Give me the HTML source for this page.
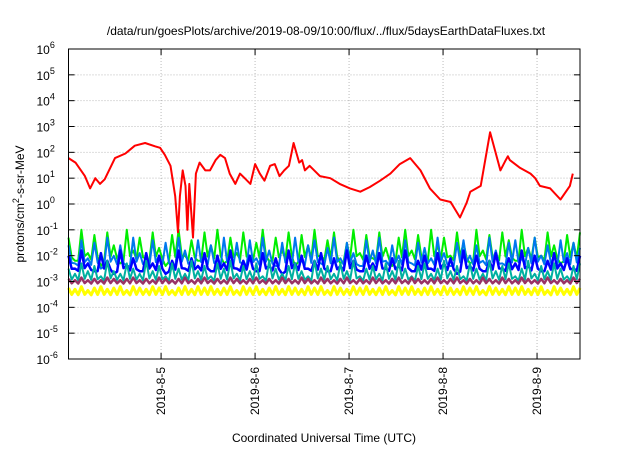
<!DOCTYPE html>
<html><head><meta charset="utf-8"><style>
body{margin:0;background:#fff;width:640px;height:448px;overflow:hidden}
svg text{font-family:"Liberation Sans",sans-serif;fill:#000}
</style></head><body>
<svg id="chart" width="640" height="448" viewBox="0 0 640 448" xmlns="http://www.w3.org/2000/svg">
<text x="326" y="35" font-size="12" text-anchor="middle">/data/run/goesPlots/archive/2019-08-09/10:00/flux/../flux/5daysEarthDataFluxes.txt</text>
<text transform="translate(24,204) rotate(-90)" font-size="12" text-anchor="middle">protons/cm<tspan dy="-5" font-size="9">2</tspan><tspan dy="5">-s-sr-MeV</tspan></text>
<text x="324" y="442" font-size="12" text-anchor="middle">Coordinated Universal Time (UTC)</text>
<g id="grid"></g><g id="series"></g><g id="axes"></g>
</svg>
<script>
const xTickLabels=["2019-8-5","2019-8-6","2019-8-7","2019-8-8","2019-8-9"];
const xTickDays=[0,1,2,3,4];
const yTickExps=[-6,-5,-4,-3,-2,-1,0,1,2,3,4,5,6];
const xDomain=[-0.985,4.457];
const yDomain=[-6,6];
const redT=[-0.985,-0.91,-0.81,-0.755,-0.70,-0.65,-0.60,-0.49,-0.38,-0.28,-0.17,-0.06,-0.01,0.04,0.10,0.15,0.18,0.20,0.23,0.26,0.28,0.30,0.34,0.37,0.41,0.47,0.52,0.58,0.63,0.68,0.73,0.79,0.84,0.89,0.95,1.0,1.05,1.10,1.16,1.21,1.26,1.31,1.36,1.41,1.47,1.50,1.53,1.58,1.69,1.80,1.90,2.01,2.12,2.22,2.33,2.44,2.54,2.65,2.76,2.86,2.97,3.08,3.18,3.25,3.29,3.40,3.50,3.61,3.66,3.69,3.71,3.82,3.93,3.98,4.03,4.14,4.25,4.35,4.38,4.41,4.457];
const redV=[60,40,12,4,10,6,9,60,90,180,230,170,150,80,30,2,0.08,2,20,5,0.1,6,0.05,15,40,20,20,50,80,60,15,6,15,10,6,35,15,8,30,35,12,20,30,230,40,50,20,30,12,10,6,4,3,4.5,8,15,35,60,20,4,1.5,1.2,0.3,1.1,3,5,600,20,45,70,50,25,15,10,5,4,1.5,5,15];
// Noisy channels: peak log10 flux per sample, plus a per-channel trough level
const greenV=[-1.3,-2.2,-1.0,-1.9,-1.2,-2.4,-1.1,-1.6,-2.3,-1.0,-1.8,-1.3,-2.1,-1.1,-1.7,-2.4,-1.2,-1.0,-2.0,-1.4,-2.2,-1.1,-1.6,-1.0,-2.3,-1.3,-1.9,-1.1,-2.1,-1.5,-1.0,-2.2,-1.3,-1.8,-1.1,-2.4,-1.2,-1.6,-1.0,-2.0,-1.4,-1.1,-2.3,-1.5,-1.0,-1.9,-1.2,-2.1,-1.1,-1.7,-2.4,-1.3,-1.0,-1.8,-1.2,-2.2,-1.0,-1.6,-1.3,-2.0,-1.1,-1.5,-2.3,-1.0,-1.8,-1.2,-2.1,-1.1,-1.4,-2.2,-1.0,-1.7,-1.3,-2.0,-1.1,-1.6,-2.3,-1.2,-1.5,-1.1];
const lblueV=[-1.6,-2.3,-1.4,-2.1,-1.5,-2.5,-1.3,-2.0,-1.6,-2.4,-1.3,-1.9,-2.2,-1.4,-2.0,-1.5,-2.5,-1.3,-1.8,-2.2,-1.4,-2.0,-1.6,-2.4,-1.3,-1.9,-1.5,-2.3,-1.4,-2.1,-1.3,-1.8,-2.4,-1.5,-2.0,-1.3,-2.2,-1.6,-1.4,-2.3,-1.7,-1.3,-2.1,-1.5,-1.9,-2.4,-1.4,-1.8,-1.3,-2.2,-1.6,-2.0,-1.4,-2.3,-1.5,-1.7,-2.1,-1.3,-1.9,-2.4,-1.5,-1.4,-2.0,-1.6,-2.2,-1.3,-1.8,-2.3,-1.5,-1.4,-2.1,-1.7,-1.3,-2.0,-1.6,-2.4,-1.4,-1.9,-1.5,-1.7];
const blueV=[-2.0,-2.5,-1.8,-2.3,-2.6,-1.9,-2.2,-2.7,-1.8,-2.4,-2.1,-2.6,-1.9,-2.3,-2.0,-2.7,-2.2,-1.8,-2.5,-2.1,-2.4,-1.9,-2.6,-2.0,-2.3,-1.8,-2.5,-2.2,-2.0,-2.6,-1.9,-2.4,-2.1,-2.7,-1.8,-2.3,-2.0,-2.5,-2.2,-1.9,-2.6,-2.1,-2.4,-1.8,-2.2,-2.6,-2.0,-2.3,-1.9,-2.5,-2.1,-2.4,-1.8,-2.6,-2.2,-2.0,-2.5,-1.9,-2.3,-2.1,-2.7,-1.8,-2.4,-2.0,-2.6,-2.2,-1.9,-2.5,-2.1,-2.3,-1.8,-2.4,-2.0,-2.6,-2.2,-1.9,-2.3,-2.1,-2.5,-2.0];
const tealV=[-2.5,-2.7,-2.3,-2.6,-2.4,-2.8,-2.2,-2.6,-2.7,-2.3,-2.5,-2.7,-2.2,-2.6,-2.4,-2.8,-2.3,-2.5,-2.7,-2.2,-2.6,-2.4,-2.8,-2.3,-2.5,-2.2,-2.7,-2.4,-2.6,-2.3,-2.8,-2.2,-2.5,-2.7,-2.4,-2.3,-2.6,-2.8,-2.2,-2.5,-2.4,-2.7,-2.3,-2.6,-2.2,-2.8,-2.5,-2.4,-2.7,-2.3,-2.6,-2.2,-2.5,-2.8,-2.4,-2.3,-2.7,-2.5,-2.2,-2.6,-2.4,-2.8,-2.3,-2.5,-2.7,-2.2,-2.6,-2.4,-2.3,-2.8,-2.5,-2.2,-2.7,-2.4,-2.6,-2.3,-2.5,-2.8,-2.4,-2.3];
const purpleV=[-2.9,-2.95,-2.85,-2.95,-2.9,-2.95,-2.85,-2.9,-2.95,-2.9,-2.85,-2.95,-2.9,-2.95,-2.85,-2.9,-2.95,-2.9,-2.85,-2.95,-2.9,-2.85,-2.95,-2.9,-2.95,-2.85,-2.9,-2.95,-2.9,-2.85,-2.95,-2.9,-2.95,-2.85,-2.9,-2.95,-2.85,-2.9,-2.95,-2.85,-2.9,-2.95,-2.9,-2.85,-2.95,-2.9,-2.95,-2.85,-2.9,-2.95,-2.9,-2.85,-2.95,-2.85,-2.9,-2.95,-2.9,-2.85,-2.95,-2.9,-2.85,-2.95,-2.9,-2.95,-2.85,-2.9,-2.95,-2.85,-2.9,-2.95,-2.85,-2.9,-2.95,-2.9,-2.85,-2.95,-2.9,-2.95,-2.85,-2.9];
const yellowV=[-3.25,-3.3,-3.2,-3.35,-3.25,-3.2,-3.3,-3.25,-3.2,-3.35,-3.2,-3.25,-3.3,-3.2,-3.25,-3.2,-3.35,-3.25,-3.2,-3.3,-3.2,-3.25,-3.2,-3.3,-3.25,-3.2,-3.35,-3.2,-3.25,-3.2,-3.3,-3.25,-3.2,-3.3,-3.2,-3.25,-3.3,-3.2,-3.25,-3.2,-3.35,-3.2,-3.25,-3.3,-3.2,-3.25,-3.2,-3.3,-3.25,-3.2,-3.35,-3.2,-3.25,-3.2,-3.3,-3.25,-3.2,-3.3,-3.2,-3.25,-3.3,-3.2,-3.25,-3.2,-3.35,-3.2,-3.25,-3.3,-3.2,-3.25,-3.2,-3.3,-3.25,-3.2,-3.35,-3.2,-3.25,-3.3,-3.2,-3.25];
const troughs=[-2.2,-2.4,-2.6,-3.0,-3.1,-3.55]; // green, light blue, blue, teal, purple, yellow

const L=68.5,R=580,T=49,B=359;
const xs=d=>L+(d-xDomain[0])/(xDomain[1]-xDomain[0])*(R-L);
const ys=e=>B-(e-yDomain[0])/(yDomain[1]-yDomain[0])*(B-T);
const NS="http://www.w3.org/2000/svg";
function mk(tag,parent){const e=document.createElementNS(NS,tag);parent.appendChild(e);return e;}
const grid=document.getElementById('grid'),ser=document.getElementById('series'),axes=document.getElementById('axes');

yTickExps.forEach(e=>{
  const y=ys(e);
  if(e>yDomain[0]&&e<yDomain[1]){
    const g=mk('line',grid);
    
    
    g.setAttribute('x1',L);g.setAttribute('x2',R);g.setAttribute('y1',y);g.setAttribute('y2',y);
    g.setAttribute('stroke','#bbb');g.setAttribute('stroke-dasharray','1,2');
  }
  const t1=mk('line',axes);
  
  
  t1.setAttribute('x1',L);t1.setAttribute('x2',L+6);t1.setAttribute('y1',y);t1.setAttribute('y2',y);t1.setAttribute('stroke','#000');
  const t2=mk('line',axes);
  
  
  t2.setAttribute('x1',R-6);t2.setAttribute('x2',R);t2.setAttribute('y1',y);t2.setAttribute('y2',y);t2.setAttribute('stroke','#000');
  const tx=mk('text',axes);
  
  
  tx.setAttribute('x',L-32);tx.setAttribute('y',y+5);tx.setAttribute('font-size','12');
  tx.textContent='10';
  const sp=mk('tspan',tx);sp.setAttribute('dy','-6');sp.setAttribute('font-size','9');sp.textContent=String(e);
});

xTickDays.forEach((d,i)=>{
  const x=xs(d);
  const g=mk('line',grid);
  
  
  g.setAttribute('x1',x);g.setAttribute('x2',x);g.setAttribute('y1',T);g.setAttribute('y2',B);
  g.setAttribute('stroke','#bbb');g.setAttribute('stroke-dasharray','1,2');
  [[B,B-6],[T,T+6]].forEach(p=>{
    const t=mk('line',axes);
    
    
    t.setAttribute('x1',x);t.setAttribute('x2',x);t.setAttribute('y1',p[0]);t.setAttribute('y2',p[1]);t.setAttribute('stroke','#000');
  });
  const tx=mk('text',axes);
  
  
  tx.setAttribute('transform','translate('+(x+4)+','+(B+8)+') rotate(-90)');
  tx.setAttribute('font-size','12');tx.setAttribute('text-anchor','end');
  tx.textContent=xTickLabels[i];
});

function drawSeries(vals,trough,color,name,w){
  const n=vals.length, step=(xDomain[1]-xDomain[0])/(n-1);
  const pts=[];
  vals.forEach((v,i)=>{
    const t=xDomain[0]+i*step;
    pts.push(xs(t).toFixed(1)+','+ys(v).toFixed(1));
    if(i<n-1) pts.push(xs(t+step/2).toFixed(1)+','+ys(trough+(v-trough)*0.15).toFixed(1));
  });
  const p=mk('polyline',ser);
  
  
  p.setAttribute('points',pts.join(' '));p.setAttribute('fill','none');p.setAttribute('stroke',color);p.setAttribute('stroke-width',w);p.setAttribute('stroke-linejoin','round');
}
drawSeries(greenV,troughs[0],'#00ee00','series-green',2);
drawSeries(lblueV,troughs[1],'#0077ee','series-light-blue',2);
drawSeries(blueV,troughs[2],'#0000ff','series-blue',2.5);
drawSeries(tealV,troughs[3],'#00b0a0','series-teal',2);
drawSeries(yellowV,troughs[5],'#ffff00','series-yellow',3);
drawSeries(purpleV,troughs[4],'#993366','series-purple',2.5);
const rp=mk('polyline',ser);


rp.setAttribute('points',redT.map((t,i)=>xs(t).toFixed(1)+','+ys(Math.log10(redV[i])).toFixed(1)).join(' '));
rp.setAttribute('fill','none');rp.setAttribute('stroke','#ff0000');rp.setAttribute('stroke-width','2');rp.setAttribute('stroke-linejoin','round');

const fr=mk('rect',axes);


fr.setAttribute('x',L);fr.setAttribute('y',T);fr.setAttribute('width',R-L);fr.setAttribute('height',B-T);
fr.setAttribute('fill','none');fr.setAttribute('stroke','#000');fr.setAttribute('stroke-width','1');
</script>
</body></html>
